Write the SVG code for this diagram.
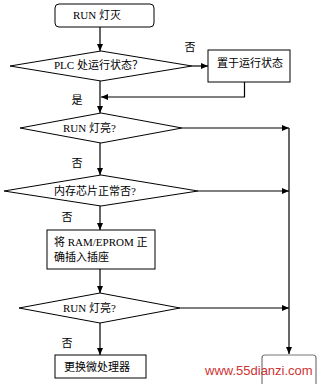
<svg xmlns="http://www.w3.org/2000/svg" width="320" height="384" viewBox="0 0 320 384">
<defs>
<marker id="ah" markerWidth="7" markerHeight="6" refX="7" refY="3" orient="auto" markerUnits="userSpaceOnUse">
<path d="M0,0 L7,3 L0,6 Z" fill="#000"/>
</marker>
<style>
.s{fill:#fff;stroke:#000;stroke-width:1}
.c{fill:none;stroke:#000;stroke-width:1.2}
.t{font-family:"Liberation Serif","Noto Sans CJK SC",serif;font-size:11px;fill:#000}
.m{text-anchor:middle}
</style>
</defs>
<rect width="320" height="384" fill="#fff"/>
<g id="connectors">
<line class="c" x1="100" y1="27" x2="100" y2="51" marker-end="url(#ah)"/>
<line class="c" x1="192" y1="66" x2="208" y2="66" marker-end="url(#ah)"/>
<polyline class="c" points="244.5,82 244.5,97 101,97" marker-end="url(#ah)"/>
<line class="c" x1="100" y1="81" x2="100" y2="113" marker-end="url(#ah)"/>
<line class="c" x1="182" y1="128" x2="289" y2="128" marker-end="url(#ah)"/>
<line class="c" x1="100" y1="143" x2="100" y2="175" marker-end="url(#ah)"/>
<line class="c" x1="198" y1="191" x2="289" y2="191" marker-end="url(#ah)"/>
<line class="c" x1="100" y1="206" x2="100" y2="230" marker-end="url(#ah)"/>
<line class="c" x1="100" y1="269" x2="100" y2="293" marker-end="url(#ah)"/>
<line class="c" x1="180" y1="308" x2="289" y2="308" marker-end="url(#ah)"/>
<line class="c" x1="100" y1="323" x2="100" y2="355" marker-end="url(#ah)"/>
<line class="c" x1="289" y1="128" x2="289" y2="354" marker-end="url(#ah)"/>
</g>
<g id="start">
<rect class="s" x="55" y="4" width="99" height="23" rx="4"/>
<text class="t" x="73" y="19">RUN 灯灭</text>
</g>
<g id="d1">
<polygon class="s" points="10,66 101,51 192,66 101,81"/>
<text class="t" x="54" y="69">PLC 处运行状态？</text>
</g>
<g id="b1">
<rect class="s" x="208" y="50" width="82" height="32"/>
<text class="t" x="217" y="67">置于运行状态</text>
</g>
<g id="d2">
<polygon class="s" points="20,128 101,113 182,128 101,143"/>
<text class="t" x="63" y="132">RUN 灯亮?</text>
</g>
<g id="d3">
<polygon class="s" points="4,191 101,175 198,191 101,206"/>
<text class="t" x="54" y="195">内存芯片正常否?</text>
</g>
<g id="b2">
<rect class="s" x="47" y="230" width="108" height="39"/>
<text class="t" x="54" y="246">将 RAM/EPROM 正</text>
<text class="t" x="54" y="261">确插入插座</text>
</g>
<g id="d4">
<polygon class="s" points="19,308 100,293 180,308 100,323"/>
<text class="t" x="63" y="312">RUN 灯亮?</text>
</g>
<g id="b3">
<rect class="s" x="55" y="355" width="91" height="23"/>
<text class="t" x="64" y="371">更换微处理器</text>
</g>
<g id="end">
<path d="M262,390 L262,358 Q262,355 265,355 L313,355 Q316,355 316,358 L316,390" fill="none" stroke="#777" stroke-width="1.2"/>
</g>
<g id="labels">
<text class="t m" x="190" y="51">否</text>
<text class="t m" x="77" y="104">是</text>
<text class="t m" x="77" y="167">否</text>
<text class="t m" x="67" y="221">否</text>
<text class="t m" x="67" y="347">否</text>
</g>
<text x="205" y="375" font-family="Liberation Sans, Arial, sans-serif" font-size="13" fill="#cc3333">www.55dianzi.com</text>
</svg>
